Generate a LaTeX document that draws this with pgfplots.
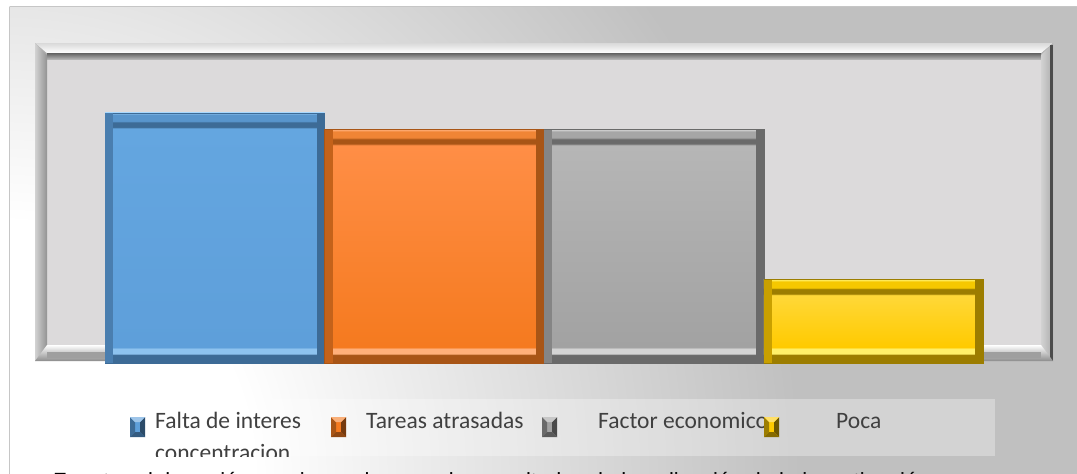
\documentclass[border=0pt]{standalone}
\usepackage{pgfplots}
\pgfplotsset{compat=1.18}
\usepackage{fontspec}
\setmainfont{Carlito}
\newfontfamily\capfont{Liberation Sans}

\definecolor{bggray}{HTML}{C0C0C0}
\definecolor{plotbg}{HTML}{DCDADB}
\definecolor{ltext}{HTML}{404040}
% bar colours: base, top, dark, light edge, mid, side
\definecolor{cblue}{HTML}{5E9FDA}   \definecolor{cblueT}{HTML}{64A6E0}
\definecolor{cblueD}{HTML}{3D6B96}  \definecolor{cblueL}{HTML}{8EC3EF}
\definecolor{cblueM}{HTML}{5895CC}  \definecolor{cblueS}{HTML}{4A7EAF}
\definecolor{corange}{HTML}{F57A1F} \definecolor{corangeT}{HTML}{FF8E46}
\definecolor{corangeD}{HTML}{A85516}\definecolor{corangeL}{HTML}{FFB07A}
\definecolor{corangeM}{HTML}{F08535}\definecolor{corangeS}{HTML}{C4621A}
\definecolor{cgray}{HTML}{A2A2A2}   \definecolor{cgrayT}{HTML}{B6B6B6}
\definecolor{cgrayD}{HTML}{6A6A6A}  \definecolor{cgrayL}{HTML}{D4D4D4}
\definecolor{cgrayM}{HTML}{A6A6A6}  \definecolor{cgrayS}{HTML}{858585}
\definecolor{cyellow}{HTML}{FFCA00} \definecolor{cyellowT}{HTML}{FFD838}
\definecolor{cyellowD}{HTML}{9C7D00}\definecolor{cyellowL}{HTML}{FFF06A}
\definecolor{cyellowM}{HTML}{F5C800}\definecolor{cyellowS}{HTML}{C9A000}

\pgfdeclareradialshading{bgrad}{\pgfpoint{0bp}{0bp}}{color(0bp)=(white); color(4.5bp)=(white); color(14.3bp)=(bggray); color(75bp)=(bggray)}

% bevel shadings, the bar spans 25bp (bottom) to 75bp (top)
\pgfdeclareverticalshading{bvblue}{100bp}{color(0bp)=(cblueD); color(25bp)=(cblueD); color(26.6bp)=(cblueD); color(26.9bp)=(cblueL); color(27.8bp)=(cblueL); color(28.2bp)=(cblue); color(71.9bp)=(cblueT); color(72.2bp)=(cblueD); color(73.1bp)=(cblueD); color(73.4bp)=(cblueM); color(74.6bp)=(cblueM); color(75bp)=(cblueL); color(100bp)=(cblueL)}
\pgfdeclareverticalshading{bvorange}{100bp}{color(0bp)=(corangeD); color(25bp)=(corangeD); color(26.71bp)=(corangeD); color(27.03bp)=(corangeL); color(28bp)=(corangeL); color(28.43bp)=(corange); color(71.68bp)=(corangeT); color(72bp)=(corangeD); color(72.97bp)=(corangeD); color(73.29bp)=(corangeM); color(74.57bp)=(corangeM); color(75bp)=(corangeL); color(100bp)=(corangeL)}
\pgfdeclareverticalshading{bvgray}{100bp}{color(0bp)=(cgrayD); color(25bp)=(cgrayD); color(26.71bp)=(cgrayD); color(27.03bp)=(cgrayL); color(28bp)=(cgrayL); color(28.43bp)=(cgray); color(71.68bp)=(cgrayT); color(72bp)=(cgrayD); color(72.97bp)=(cgrayD); color(73.29bp)=(cgrayM); color(74.57bp)=(cgrayM); color(75bp)=(cgrayL); color(100bp)=(cgrayL)}
\pgfdeclareverticalshading{bvyellow}{100bp}{color(0bp)=(cyellowD); color(25bp)=(cyellowD); color(29.8bp)=(cyellowD); color(30.7bp)=(cyellowL); color(33.4bp)=(cyellowL); color(34.6bp)=(cyellow); color(65.7bp)=(cyellowT); color(66.6bp)=(cyellowD); color(69.3bp)=(cyellowD); color(70.2bp)=(cyellowM); color(73.8bp)=(cyellowM); color(75bp)=(cyellowL); color(100bp)=(cyellowL)}

\pgfplotsset{
  mainbar/.style 2 args={ybar, bar width=219.6pt, bar shift=0pt, shade, shading=#1, draw=#2D, line width=0.6pt},
  sidebar/.style 2 args={ybar, bar width=8pt, bar shift=#2, fill=#1, draw=none},
}

% small bevelled legend key: x, y (top), base colour, side colour
\newcommand\legmark[4]{%
  \fill[#3] (#1,#2) rectangle ++(15,20);
  \fill[#4] (#1,#2) -- ++(5,5) -- ++(0,10) -- ++(-5,5) -- cycle;
  \fill[#4!70!black] (#1+15,#2) -- ++(-5,5) -- ++(0,10) -- ++(5,5) -- cycle;
  \fill[#3!60!white] (#1,#2) -- ++(15,0) -- ++(-5,5) -- ++(-5,0) -- cycle;
  \fill[#4!85!black] (#1,#2+20) -- ++(15,0) -- ++(-5,-5) -- ++(-5,0) -- cycle;
}

\begin{document}
\begin{tikzpicture}[x=1pt, y=-1pt]
\useasboundingbox (0,0) rectangle (1077,474);
\clip (0,0) rectangle (1077,474);
\fill[white] (0,0) rectangle (1077,474);

% chart area
\begin{scope}
  \clip (9,6) rectangle (1100,500);
  \shade[shading=bgrad] (0,474) circle (1400);
\end{scope}
\draw[gray!45, line width=1pt] (9.5,6.5) -- (1100,6.5);
\draw[gray!45, line width=1pt] (9.5,6.5) -- (9.5,500);

% plot area frame
\fill[gray!60] (35,43) rectangle (1053,361);
\fill[plotbg] (47,57) rectangle (1041,347);
\shade[top color=gray!30, bottom color=white] (35,43) -- (1053,43) -- (1041,53) -- (47,53) -- cycle;
\shade[top color=black!62, bottom color=gray!60] (47,53) rectangle (1041,59);
\shade[left color=gray!35, right color=gray!85] (35,43) -- (47,55) -- (47,349) -- (35,361) -- cycle;
\shade[left color=gray!35, right color=gray!65] (1053,43) -- (1041,55) -- (1041,349) -- (1053,361) -- cycle;
\fill[black!70] (1050,45) rectangle (1053,361);
\shade[top color=white, middle color=white, bottom color=gray!90] (35,361) -- (47,345) -- (1041,345) -- (1053,361) -- cycle;
\fill[gray!75] (47,352) rectangle (1041,358);

\begin{axis}[at={(105pt,-363pt)}, anchor=south west,
  x=219.6pt, y=16.67pt,
  xmin=-0.5, xmax=3.5, ymin=0, ymax=16,
  hide axis, clip=false]
  \addplot[mainbar={bvblue}{cblue}] coordinates {(0,15)};
  \addplot[sidebar={cblueS}{-105.8pt}] coordinates {(0,15)};
  \addplot[sidebar={cblueD}{105.8pt}] coordinates {(0,15)};
  \addplot[mainbar={bvorange}{corange}] coordinates {(1,14)};
  \addplot[sidebar={corangeS}{-105.8pt}] coordinates {(1,14)};
  \addplot[sidebar={corangeD}{105.8pt}] coordinates {(1,14)};
  \addplot[mainbar={bvgray}{cgray}] coordinates {(2,14)};
  \addplot[sidebar={cgrayS}{-105.8pt}] coordinates {(2,14)};
  \addplot[sidebar={cgrayD}{105.8pt}] coordinates {(2,14)};
  \addplot[mainbar={bvyellow}{cyellow}] coordinates {(3,5)};
  \addplot[sidebar={cyellowS}{-105.8pt}] coordinates {(3,5)};
  \addplot[sidebar={cyellowD}{105.8pt}] coordinates {(3,5)};
\end{axis}

% legend
\begin{scope}
  \clip (96,399) rectangle (995,456);
  \fill[white, opacity=0.3] (96,399) rectangle (995,456);
  \begin{scope}[every node/.style={anchor=base west, inner sep=0pt, text=ltext,
      font=\fontsize{23.5}{28}\selectfont}]
    \node at (155,428) {Falta de interes};
    \node at (155,460) {concentracion};
    \node at (366,428) {Tareas atrasadas};
    \node at (598,428) {Factor economico};
    \node at (836,428) {Poca};
  \end{scope}
  \legmark{130}{417}{cblue}{cblueD}
  \legmark{331}{417}{corange}{corangeD}
  \legmark{542}{417}{cgray}{cgrayD}
  \legmark{764}{417}{cyellow}{cyellowD}
\end{scope}

% source line, cut by the bottom edge
\node[anchor=base west, inner sep=0pt, font=\capfont\fontsize{22}{26}\selectfont]
  at (53,488) {Fuente: elaboración propia con base en los resultados de la aplicación de la investigación};
\end{tikzpicture}
\end{document}
